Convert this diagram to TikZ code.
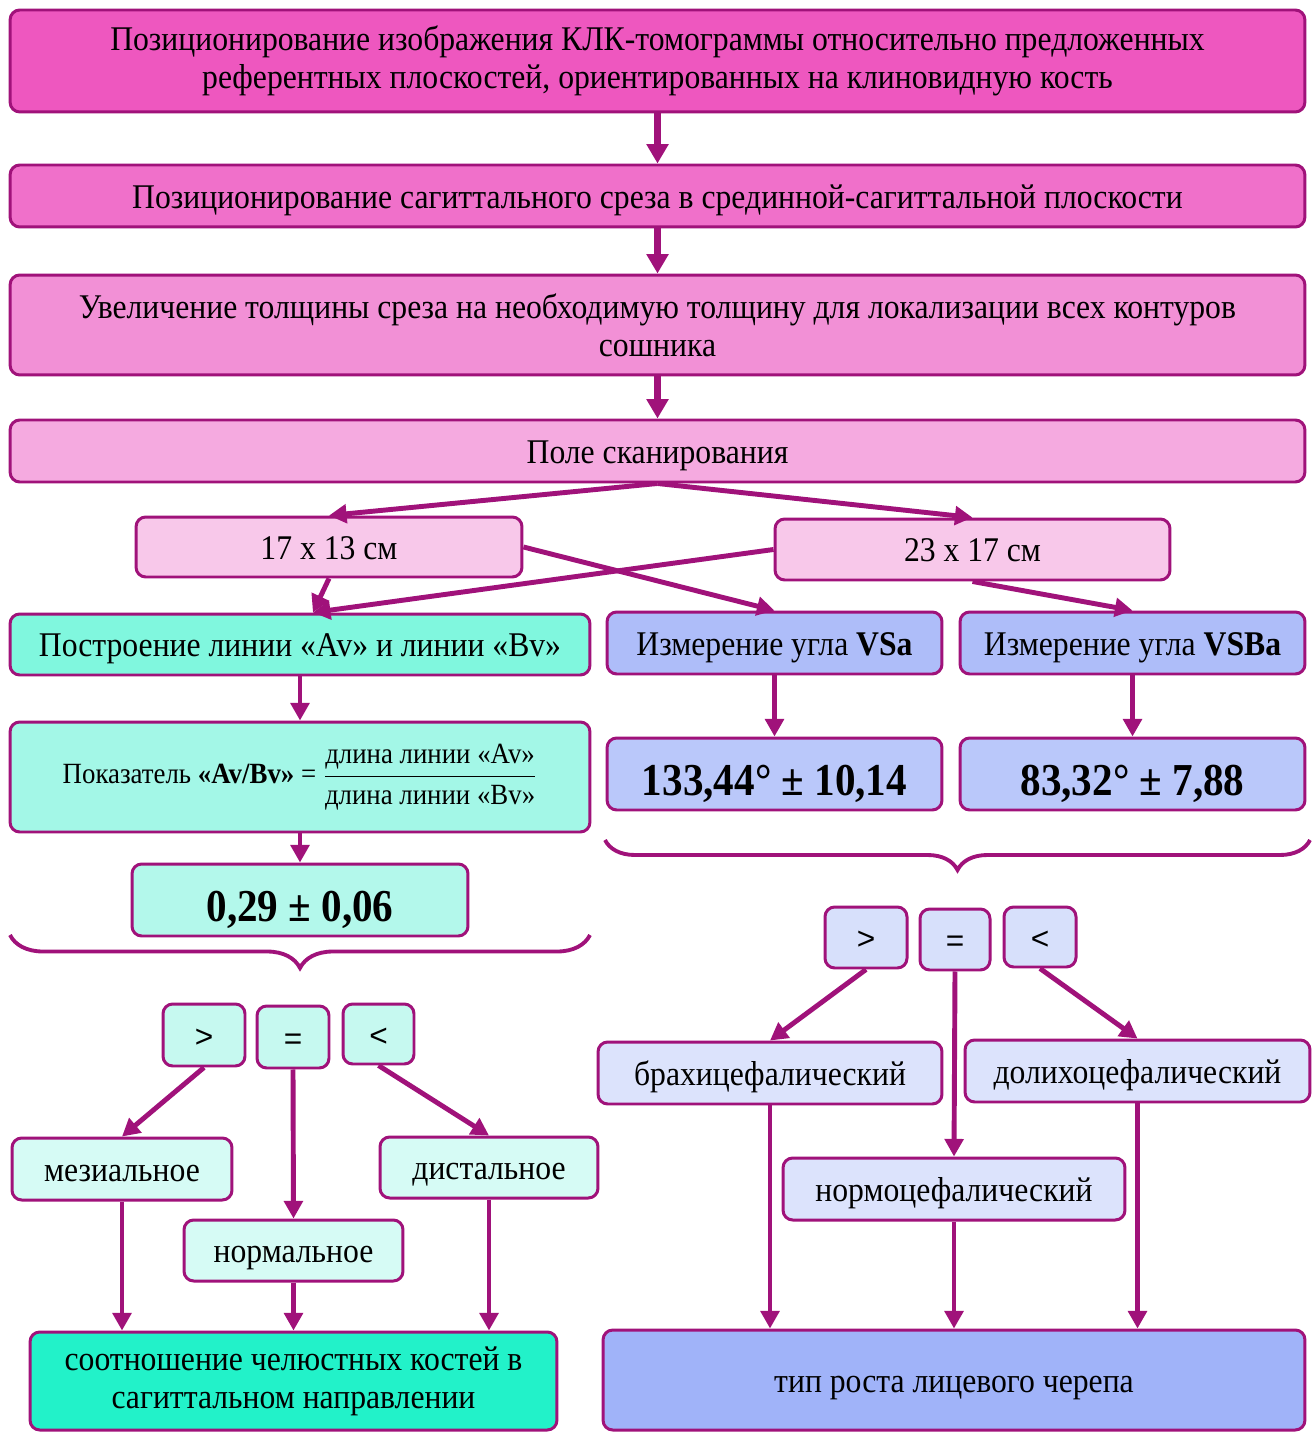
\documentclass[tikz,border=0pt]{standalone}
\usepackage{fontspec}
\setmainfont{Liberation Serif}[FakeStretch=0.915]
\setsansfont{Liberation Sans}
\newfontfamily\numfont{Liberation Serif}[FakeStretch=0.9]
\usepackage{amsmath}
\usetikzlibrary{arrows.meta,positioning,calc,decorations.pathreplacing}
\definecolor{plum}{HTML}{A0127A}
\definecolor{rose1}{HTML}{EE57BF}
\definecolor{rose2}{HTML}{F070CA}
\definecolor{rose3}{HTML}{F290D6}
\definecolor{rose4}{HTML}{F5AAE0}
\definecolor{rose5}{HTML}{F8C8EA}
\definecolor{mint1}{HTML}{80F7DE}
\definecolor{mint2}{HTML}{A3F7E7}
\definecolor{mint3}{HTML}{B3F8EB}
\definecolor{mint4}{HTML}{C6F9F0}
\definecolor{mint5}{HTML}{D6FBF5}
\definecolor{mint6}{HTML}{22F2C9}
\definecolor{blue1}{HTML}{AEBDF9}
\definecolor{blue2}{HTML}{BAC8FA}
\definecolor{blue3}{HTML}{D7E0FB}
\definecolor{blue4}{HTML}{DCE3FC}
\definecolor{blue5}{HTML}{A0B3F9}
\tikzset{
  cbox/.style={draw=plum, line width=1.7pt, rounded corners=5.5pt, align=center, inner sep=2pt, text height=14pt, text depth=0pt, font=\fontsize{19.7}{21.5}\selectfont},
  cboxtwo/.style={cbox, text height={}, text depth={}},
  cboxsign/.style={cbox, font=\sffamily\fontsize{18}{21.5}\selectfont},
  cboxnum/.style={cbox, text height=24pt, font=\numfont\bfseries\fontsize{26}{30}\selectfont},
  carrow/.style={-{Triangle[length=10pt,width=10.5pt]}, line width=2.8pt, plum},
  carrowbold/.style={-{Triangle[length=11pt,width=12pt]}, line width=4.2pt, plum},
  cbrace/.style={decorate, decoration={brace, mirror, amplitude=#1}, line width=2.2pt, plum},
}

\begin{document}
\begin{tikzpicture}[x=0.02cm, y=-0.02cm]
  \useasboundingbox[fill=white] (0,0) rectangle (1314,1432);
  % main chain
  \node[cboxtwo, fill=rose1, minimum width=25.9cm, minimum height=2.04cm] (pos) at (657.5,61) {Позиционирование изображения КЛК-томограммы относительно предложенных\\референтных плоскостей, ориентированных на клиновидную кость};
  \node[cbox, fill=rose2, minimum width=25.9cm, minimum height=1.24cm] (sag) at (657.5,196) {Позиционирование сагиттального среза в срединной-сагиттальной плоскости};
  \node[cboxtwo, fill=rose3, minimum width=25.9cm, minimum height=2cm] (thick) at (657.5,325) {Увеличение толщины среза на необходимую толщину для локализации всех контуров\\сошника};
  \node[cbox, fill=rose4, minimum width=25.9cm, minimum height=1.24cm] (scan) at (657.5,451) {Поле сканирования};
  \node[cbox, fill=rose5, minimum width=7.72cm, minimum height=1.2cm] (s17) at (329,547) {17 x 13 см};
  \node[cbox, fill=rose5, minimum width=7.9cm, minimum height=1.22cm] (s23) at (972.5,549.5) {23 x 17 см};
  % left branch
  \node[cbox, fill=mint1, minimum width=11.6cm, minimum height=1.22cm] (postr) at (300,644.5) {Построение линии «Av» и линии «Bv»};
  \node[cboxtwo, fill=mint2, minimum width=11.6cm, minimum height=2.2cm, font=\fontsize{16.7}{20}\selectfont] (ratio) at (300,777) {Показатель \textbf{«Av/Bv»} = $\dfrac{\text{длина линии «Av»}}{\text{длина линии «Bv»}}$};
  \node[cboxnum, fill=mint3, minimum width=6.72cm, minimum height=1.44cm] (ratioval) at (300,900) {0,29 ± 0,06};
  \node[cboxsign, fill=mint4, minimum width=1.64cm, minimum height=1.24cm] (lgt) at (204,1035) {>};
  \node[cboxsign, fill=mint4, minimum width=1.44cm, minimum height=1.24cm] (leq) at (293,1037) {=};
  \node[cboxsign, fill=mint4, minimum width=1.42cm, minimum height=1.2cm] (llt) at (378.5,1034) {<};
  \node[cbox, fill=mint5, minimum width=4.4cm, minimum height=1.24cm] (mes) at (122,1169) {мезиальное};
  \node[cbox, fill=mint5, minimum width=4.38cm, minimum height=1.22cm] (norm) at (293.5,1250.5) {нормальное};
  \node[cbox, fill=mint5, minimum width=4.36cm, minimum height=1.22cm] (dist) at (489,1167.5) {дистальное};
  \node[cboxtwo, fill=mint6, minimum width=10.54cm, minimum height=1.96cm] (sagres) at (293.5,1381) {соотношение челюстных костей в\\сагиттальном направлении};
  % right branch
  \node[cbox, fill=blue1, minimum width=6.7cm, minimum height=1.24cm] (vsa) at (774.5,643) {Измерение угла \textbf{VSa}};
  \node[cbox, fill=blue1, minimum width=6.9cm, minimum height=1.24cm] (vsba) at (1132.5,643) {Измерение угла \textbf{VSBa}};
  \node[cboxnum, fill=blue2, minimum width=6.7cm, minimum height=1.44cm] (vsaval) at (774.5,774) {133,44° ± 10,14};
  \node[cboxnum, fill=blue2, minimum width=6.9cm, minimum height=1.44cm] (vsbaval) at (1132.5,774) {83,32° ± 7,88};
  \node[cboxsign, fill=blue3, minimum width=1.64cm, minimum height=1.22cm] (rgt) at (866,937.5) {>};
  \node[cboxsign, fill=blue3, minimum width=1.4cm, minimum height=1.22cm] (req) at (955,939.5) {=};
  \node[cboxsign, fill=blue3, minimum width=1.44cm, minimum height=1.2cm] (rlt) at (1040,937) {<};
  \node[cbox, fill=blue4, minimum width=6.88cm, minimum height=1.24cm] (brachy) at (770,1073) {брахицефалический};
  \node[cbox, fill=blue4, minimum width=6.9cm, minimum height=1.24cm] (dolicho) at (1137.5,1071) {долихоцефалический};
  \node[cbox, fill=blue4, minimum width=6.84cm, minimum height=1.24cm] (normo) at (954,1189) {нормоцефалический};
  \node[cbox, fill=blue5, minimum width=14.04cm, minimum height=2cm] (growth) at (954,1380) {тип роста лицевого черепа};
  % braces
  \draw[cbrace=0.66cm] (10,935) -- (590,935);
  \draw[cbrace=0.6cm] (605,840) -- (1310,840);
  % arrows
  \draw[carrowbold] (pos.south) -- (sag.north);
  \draw[carrowbold] (sag.south) -- (thick.north);
  \draw[carrowbold] (thick.south) -- (scan.north);
  \draw[carrow] (scan.south) -- (s17.north);
  \draw[carrow] (scan.south) -- (s23.north);
  \draw[carrow] (s17.east) -- (vsa.north);
  \draw[carrow] (s23.west) -- (postr.68);
  \draw[carrow] (s17.south) -- (postr.68);
  \draw[carrow] (s23.south) -- (vsba.north);
  \draw[carrow] (postr.south) -- (ratio.north);
  \draw[carrow] (ratio.south) -- (ratioval.north);
  \draw[carrow] (vsa.south) -- (vsaval.north);
  \draw[carrow] (vsba.south) -- (vsbaval.north);
  \draw[carrow] (lgt.south) -- (mes.north);
  \draw[carrow] (leq.south) -- (norm.north);
  \draw[carrow] (llt.south) -- (dist.north);
  \draw[carrow] (mes.south) -- (mes.south |- sagres.north);
  \draw[carrow] (norm.south) -- (sagres.north);
  \draw[carrow] (dist.south) -- (dist.south |- sagres.north);
  \draw[carrow] (rgt.south) -- (brachy.north);
  \draw[carrow] (req.south) -- (normo.north);
  \draw[carrow] (rlt.south) -- (dolicho.north);
  \draw[carrow] (brachy.south) -- (brachy.south |- growth.north);
  \draw[carrow] (normo.south) -- (growth.north);
  \draw[carrow] (dolicho.south) -- (dolicho.south |- growth.north);
\end{tikzpicture}
\end{document}
